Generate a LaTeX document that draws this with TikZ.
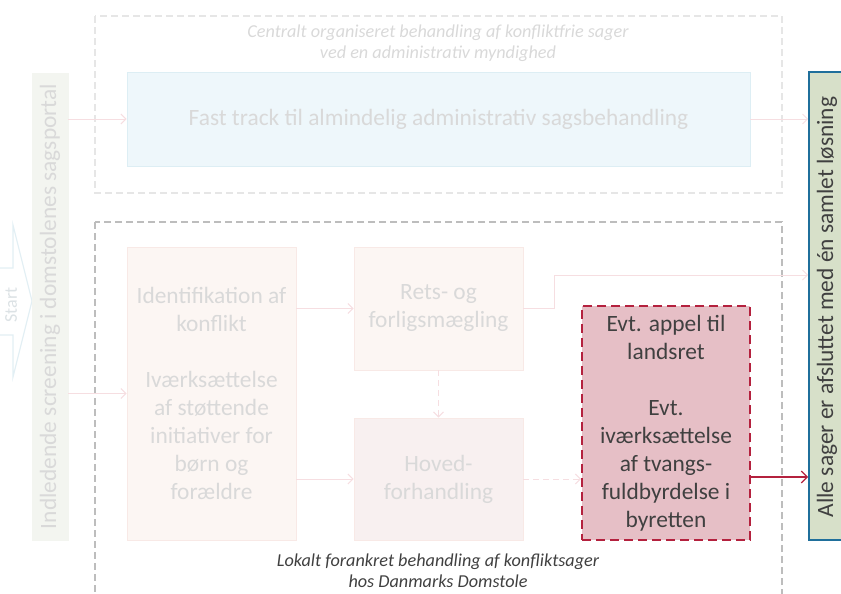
\documentclass[tikz,border=0pt]{standalone}
\usepackage{fontspec}
\setmainfont{Carlito}
\usetikzlibrary{arrows.meta}

\definecolor{fadetext}{HTML}{D9D9D9}
\definecolor{fadeline}{HTML}{F6DEE1}
\definecolor{outerlight}{HTML}{E6E6E6}
\definecolor{outerdark}{HTML}{BDBDBD}
\definecolor{fastfill}{HTML}{EEF7FB}
\definecolor{fastdraw}{HTML}{DDEEF4}
\definecolor{screenfill}{HTML}{F3F5F0}
\definecolor{peachfill}{HTML}{FCF6F3}
\definecolor{peachdraw}{HTML}{F8E9E6}
\definecolor{hovedfill}{HTML}{F8F0F0}
\definecolor{appealfill}{HTML}{E6BFC6}
\definecolor{appealdraw}{HTML}{B4213E}
\definecolor{endfill}{HTML}{D7E0C9}
\definecolor{enddraw}{HTML}{1F6F9B}
\definecolor{darktext}{HTML}{404040}
\definecolor{startdraw}{HTML}{E2EFF4}
\definecolor{starttext}{HTML}{DCE2E5}

\tikzset{
  bodyfont/.style={font=\fontsize{23.4}{28}\selectfont},
  capfont/.style={font=\fontsize{18.2}{21}\selectfont\itshape},
  fadebox/.style={bodyfont, text=fadetext, align=center, inner sep=0pt,
    draw=peachdraw, fill=peachfill, line width=0.8pt},
  flowarrow/.style={draw=fadeline, line width=1pt,
    -{Straight Barb[length=5pt,width=10pt,line width=1pt]}},
  flowdashed/.style={flowarrow, dash pattern=on 6pt off 4pt},
}

\begin{document}
\begin{tikzpicture}[x=1pt,y=-1pt]
\useasboundingbox (0,0) rectangle (841,594);
\begin{scope}
\clip (0,0) rectangle (841,594);

% grouping frames
\draw[outerlight, line width=1.1pt, dash pattern=on 7pt off 4pt]
  (95,16) rectangle (782,193);
\draw[outerdark, line width=1.1pt, dash pattern=on 7pt off 4pt]
  (95,222) rectangle (782,610);

% start arrow
\draw[startdraw, line width=1.2pt, fill=white]
  (-3,268) -- (13,268) -- (13,225) -- (32,301) -- (13,377) -- (13,335) -- (-3,335);
\node[rotate=90, text=starttext, font=\fontsize{18}{20}\selectfont] (start) at (11,305) {Start};

% process boxes
\node[fill=screenfill, draw=screenfill, minimum width=36pt, minimum height=467pt,
  inner sep=0pt] (screen) at (50,306.5) {};
\node[rotate=90, bodyfont, text=fadetext] (screentext) at (50,306.5)
  {Indledende screening i domstolenes sagsportal};

\node[bodyfont, text=fadetext, fill=fastfill, draw=fastdraw, line width=0.8pt,
  minimum width=623pt, minimum height=94pt, inner sep=0pt] (fast) at (438.5,119)
  {Fast track til almindelig administrativ sagsbehandling};

\node[fadebox, minimum width=169pt, minimum height=293pt] (ident) at (211.5,393.5)
  {Identifikation af\\konflikt\\[28pt]Iværksættelse\\af støttende\\initiativer for\\børn og\\forældre};

\node[fadebox, minimum width=169pt, minimum height=123pt] (rets) at (438.5,308.5)
  {Rets- og\\forligsmægling};

\node[fadebox, fill=hovedfill, minimum width=169pt, minimum height=122pt] (hoved) at (438.5,479)
  {Hoved-\\forhandling};

\node[bodyfont, text=darktext, align=center, inner sep=0pt, fill=appealfill,
  draw=appealdraw, line width=2pt, dash pattern=on 9pt off 5pt,
  minimum width=168pt, minimum height=234pt] (appeal) at (666,423)
  {Evt. appel til\\landsret\\[28pt]Evt.\\iværksættelse\\af tvangs-\\fuldbyrdelse i\\byretten};

\node[fill=endfill, draw=enddraw, line width=1.6pt, minimum width=42pt,
  minimum height=468pt, inner sep=0pt] (final) at (830,306) {};
\node[rotate=90, bodyfont, text=darktext] (finaltext) at (827,307)
  {Alle sager er afsluttet med én samlet løsning};

% captions
\node[capfont, text=fadetext, align=center] (topcap) at (438,43)
  {Centralt organiseret behandling af konfliktfrie sager\\ved en administrativ myndighed};
\node[capfont, text=darktext, align=center] (botcap) at (438,571)
  {Lokalt forankret behandling af konfliktsager\\hos Danmarks Domstole};

% connectors
\draw[flowarrow] (screen.east |- fast.west) -- (fast.west);
\draw[flowarrow] (screen.east |- ident.west) -- (ident.west);
\draw[flowarrow] (ident.east |- rets.west) -- (rets.west);
\draw[flowarrow] (ident.east |- hoved.west) -- (hoved.west);
\draw[flowdashed] (rets.south) -- (hoved.north);
\draw[flowdashed] (hoved.east) -- (hoved.east -| appeal.west);
\coordinate (bend) at (554,275);
\draw[flowarrow] (rets.east) -| (bend) -- (bend -| final.west);
\draw[flowarrow] (fast.east) -- (fast.east -| final.west);
\path ([yshift=-54pt]appeal.east) coordinate (appout);
\draw[appealdraw, line width=1.3pt,
  -{Straight Barb[length=6pt,width=12pt,line width=1.3pt]}]
  (appout) -- (appout -| final.west);
\end{scope}
\end{tikzpicture}
\end{document}
